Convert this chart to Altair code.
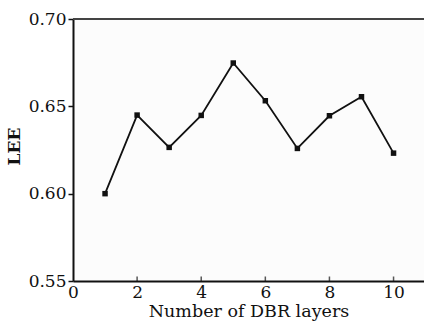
import altair as alt
import pandas as pd

layers = [1, 2, 3, 4, 5, 6, 7, 8, 9, 10]
lee = [0.600, 0.645, 0.6265, 0.6448, 0.6748, 0.6532, 0.6259, 0.6446, 0.6555, 0.6232]
x_ticks = [0, 2, 4, 6, 8, 10]
y_ticks = [0.55, 0.60, 0.65, 0.70]

df = pd.DataFrame({"n": layers, "lee": lee})
tick_df = pd.DataFrame({"n": x_ticks[1:], "base": [0.55] * (len(x_ticks) - 1)})
top_df = pd.DataFrame({"x0": [0], "x1": [10.95], "y": [0.70]})

FONT = "DejaVu Serif"
xs = alt.Scale(domain=[0, 10.95], nice=False, zero=False)
ys = alt.Scale(domain=[0.55, 0.70], nice=False, zero=False)

x_axis = alt.Axis(values=x_ticks, ticks=False, grid=False, labelFont=FONT, labelFontSize=17,
                  labelColor="#111", labelPadding=3, domainColor="#111", domainWidth=2,
                  title="Number of DBR layers", titleFont=FONT, titleFontSize=17.5,
                  titleFontWeight="normal", titleColor="#111", titlePadding=2, labelFlush=False)
y_axis = alt.Axis(values=y_ticks, format=".2f", grid=False, tickSize=5, tickWidth=1.5,
                  tickColor="#111", labelFont=FONT, labelFontSize=17, labelColor="#111",
                  labelPadding=2, domainColor="#111", domainWidth=2, title="LEE",
                  titleFont=FONT, titleFontSize=17, titleFontWeight="bold", titleColor="#111",
                  titlePadding=5, titleY=127)

line = alt.Chart(df).mark_line(color="#111", strokeWidth=1.8).encode(
    x=alt.X("n:Q", scale=xs, axis=x_axis),
    y=alt.Y("lee:Q", scale=ys, axis=y_axis),
)
pts = alt.Chart(df).mark_square(color="#111", size=30, opacity=1).encode(
    x=alt.X("n:Q", scale=xs), y=alt.Y("lee:Q", scale=ys)
)
ticks = alt.Chart(tick_df).mark_tick(orient="vertical", size=9, thickness=1.5,
                                     color="#111", clip=True).encode(
    x=alt.X("n:Q", scale=xs), y=alt.Y("base:Q", scale=ys)
)
top = alt.Chart(top_df).mark_rule(color="#444", strokeWidth=2).encode(
    x=alt.X("x0:Q", scale=xs), x2="x1:Q", y=alt.Y("y:Q", scale=ys)
)

chart = alt.layer(top, ticks, line, pts).properties(
    width=351, height=262,
    autosize=alt.AutoSizeParams(type="none"),
    padding={"left": 73, "top": 19, "right": 0, "bottom": 50},
    background="white",
).configure_view(stroke=None, fill="#fcfcfc")

chart.save("out.html", embed_options={"renderer": "svg", "actions": False})
